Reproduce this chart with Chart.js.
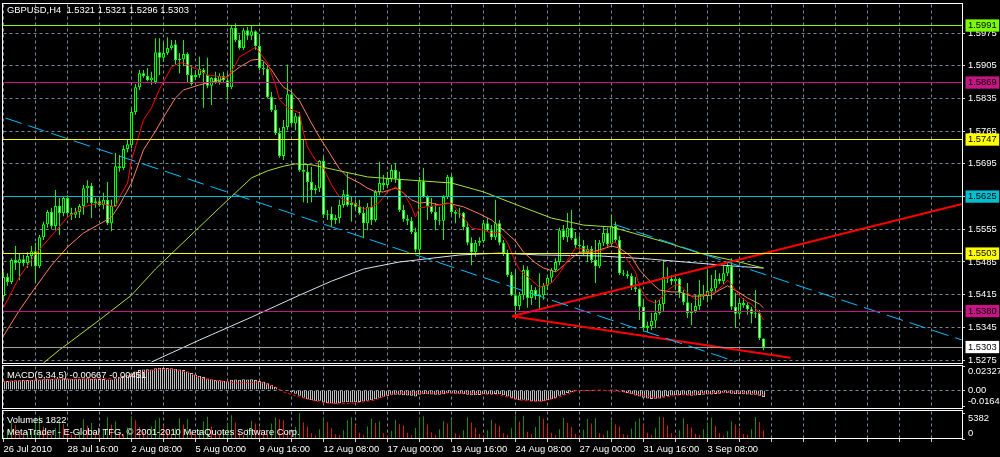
<!DOCTYPE html>
<html>
<head>
<meta charset="utf-8">
<title>GBPUSD,H4</title>
<script src="https://cdn.jsdelivr.net/npm/chart.js"></script>
<style>
html,body{margin:0;padding:0;background:#000;overflow:hidden;}
canvas{display:block;}
</style>
</head>
<body>
<canvas id="chart" width="1000" height="457"></canvas>
<script>
// ---------------- DATA ----------------
const opens = [
1.5412,1.5453,1.5442,1.5489,1.5483,1.5491,1.5483,1.5498,1.5508,1.5476,
1.5538,1.5566,1.5592,1.5562,1.5605,1.5590,1.5622,1.5590,1.5586,1.5592,
1.5605,1.5643,1.5648,1.5611,1.5615,1.5607,1.5618,1.5568,1.5605,1.5690,
1.5686,1.5727,1.5735,1.5806,1.5859,1.5889,1.5883,1.5874,1.5870,1.5934,
1.5922,1.5932,1.5943,1.5951,1.5917,1.5919,1.5930,1.5885,1.5881,1.5885,
1.5896,1.5885,1.5862,1.5879,1.5870,1.5883,1.5874,1.5859,1.5986,1.5960,
1.5943,1.5981,1.5969,1.5979,1.5947,1.5900,1.5898,1.5838,1.5810,1.5761,
1.5712,1.5774,1.5844,1.5782,1.5797,1.5682,1.5678,1.5656,1.5639,1.5643,
1.5701,1.5586,1.5588,1.5575,1.5579,1.5607,1.5630,1.5607,1.5611,1.5603,
1.5590,1.5568,1.5603,1.5575,1.5635,1.5654,1.5650,1.5663,1.5682,1.5663,
1.5596,1.5577,1.5573,1.5549,1.5511,1.5658,1.5624,1.5605,1.5592,1.5575,
1.5573,1.5624,1.5667,1.5592,1.5588,1.5590,1.5560,1.5526,1.5506,1.5526,
1.5530,1.5568,1.5553,1.5538,1.5568,1.5526,1.5504,1.5457,1.5414,1.5391,
1.5414,1.5468,1.5408,1.5425,1.5412,1.5414,1.5434,1.5451,1.5468,1.5485,
1.5553,1.5538,1.5558,1.5536,1.5521,1.5519,1.5506,1.5513,1.5489,1.5476,
1.5526,1.5547,1.5523,1.5562,1.5532,1.5461,1.5459,1.5455,1.5431,1.5427,
1.5389,1.5344,1.5348,1.5359,1.5376,1.5395,1.5453,1.5449,1.5444,1.5449,
1.5419,1.5399,1.5376,1.5380,1.5391,1.5416,1.5412,1.5423,1.5429,1.5449,
1.5444,1.5461,1.5476,1.5389,1.5374,1.5397,1.5393,1.5384,1.5374,1.5376,
1.5321];
const highs = [
1.5464,1.5461,1.5493,1.5519,1.5504,1.5500,1.5506,1.5519,1.5526,1.5543,
1.5571,1.5596,1.5601,1.5639,1.5622,1.5626,1.5628,1.5601,1.5601,1.5609,
1.5650,1.5660,1.5654,1.5622,1.5622,1.5633,1.5656,1.5618,1.5718,1.5714,
1.5735,1.5746,1.5815,1.5866,1.5896,1.5896,1.5900,1.5892,1.5964,1.5964,
1.5954,1.5966,1.5960,1.5960,1.5932,1.5960,1.5934,1.5904,1.5896,1.5924,
1.5900,1.5922,1.5881,1.5892,1.5889,1.5892,1.5889,1.5992,1.5996,1.5971,
1.5986,1.5988,1.5992,1.5981,1.5973,1.5913,1.5904,1.5849,1.5821,1.5772,
1.5789,1.5907,1.5853,1.5804,1.5806,1.5746,1.5693,1.5688,1.5650,1.5703,
1.5710,1.5596,1.5603,1.5586,1.5618,1.5639,1.5675,1.5624,1.5618,1.5618,
1.5603,1.5611,1.5624,1.5639,1.5699,1.5671,1.5678,1.5693,1.5697,1.5678,
1.5607,1.5586,1.5581,1.5558,1.5667,1.5686,1.5628,1.5622,1.5611,1.5603,
1.5628,1.5671,1.5671,1.5596,1.5601,1.5592,1.5571,1.5538,1.5532,1.5538,
1.5575,1.5579,1.5564,1.5618,1.5575,1.5532,1.5511,1.5464,1.5468,1.5421,
1.5478,1.5476,1.5436,1.5431,1.5461,1.5440,1.5457,1.5472,1.5493,1.5558,
1.5564,1.5590,1.5596,1.5549,1.5541,1.5532,1.5521,1.5519,1.5532,1.5532,
1.5562,1.5558,1.5586,1.5571,1.5541,1.5468,1.5466,1.5461,1.5453,1.5429,
1.5404,1.5357,1.5376,1.5404,1.5404,1.5489,1.5474,1.5457,1.5459,1.5451,
1.5425,1.5440,1.5397,1.5414,1.5446,1.5436,1.5468,1.5457,1.5468,1.5461,
1.5478,1.5485,1.5493,1.5419,1.5408,1.5408,1.5399,1.5389,1.5425,1.5382,
1.5321];
const lows = [
1.5404,1.5434,1.5438,1.5468,1.5446,1.5476,1.5472,1.5476,1.5440,1.5472,
1.5532,1.5558,1.5556,1.5553,1.5543,1.5583,1.5586,1.5575,1.5579,1.5579,
1.5586,1.5611,1.5579,1.5601,1.5603,1.5598,1.5564,1.5551,1.5603,1.5678,
1.5682,1.5720,1.5729,1.5800,1.5853,1.5879,1.5872,1.5864,1.5866,1.5885,
1.5913,1.5928,1.5939,1.5907,1.5889,1.5904,1.5868,1.5862,1.5874,1.5879,
1.5815,1.5857,1.5821,1.5866,1.5864,1.5870,1.5832,1.5855,1.5956,1.5939,
1.5939,1.5960,1.5960,1.5939,1.5896,1.5885,1.5836,1.5806,1.5757,1.5708,
1.5703,1.5767,1.5778,1.5767,1.5678,1.5613,1.5611,1.5613,1.5630,1.5635,
1.5579,1.5575,1.5560,1.5566,1.5568,1.5601,1.5603,1.5571,1.5596,1.5586,
1.5536,1.5553,1.5564,1.5571,1.5628,1.5639,1.5643,1.5656,1.5654,1.5592,
1.5571,1.5564,1.5545,1.5506,1.5500,1.5622,1.5575,1.5588,1.5553,1.5564,
1.5532,1.5620,1.5586,1.5568,1.5579,1.5553,1.5521,1.5478,1.5496,1.5519,
1.5526,1.5549,1.5532,1.5532,1.5521,1.5498,1.5453,1.5412,1.5367,1.5382,
1.5404,1.5387,1.5393,1.5404,1.5382,1.5404,1.5425,1.5440,1.5464,1.5478,
1.5532,1.5528,1.5532,1.5515,1.5511,1.5500,1.5485,1.5483,1.5440,1.5472,
1.5519,1.5515,1.5517,1.5526,1.5457,1.5455,1.5449,1.5425,1.5421,1.5361,
1.5339,1.5335,1.5339,1.5344,1.5372,1.5378,1.5440,1.5436,1.5425,1.5408,
1.5393,1.5365,1.5350,1.5376,1.5382,1.5404,1.5399,1.5404,1.5421,1.5438,
1.5438,1.5455,1.5382,1.5344,1.5365,1.5387,1.5372,1.5354,1.5365,1.5318,
1.5296];
const closes = [
1.5453,1.5442,1.5489,1.5483,1.5491,1.5483,1.5498,1.5508,1.5476,1.5538,
1.5566,1.5592,1.5562,1.5605,1.5590,1.5622,1.5590,1.5586,1.5592,1.5605,
1.5643,1.5648,1.5611,1.5615,1.5607,1.5618,1.5568,1.5605,1.5690,1.5686,
1.5727,1.5737,1.5806,1.5859,1.5889,1.5883,1.5874,1.5879,1.5934,1.5922,
1.5932,1.5943,1.5949,1.5917,1.5919,1.5930,1.5885,1.5866,1.5885,1.5898,
1.5889,1.5862,1.5879,1.5870,1.5883,1.5874,1.5859,1.5986,1.5960,1.5943,
1.5981,1.5969,1.5979,1.5947,1.5900,1.5898,1.5838,1.5810,1.5761,1.5712,
1.5774,1.5844,1.5782,1.5797,1.5682,1.5678,1.5656,1.5639,1.5643,1.5701,
1.5586,1.5588,1.5575,1.5579,1.5607,1.5630,1.5607,1.5611,1.5603,1.5590,
1.5568,1.5603,1.5575,1.5635,1.5654,1.5650,1.5663,1.5682,1.5663,1.5596,
1.5577,1.5573,1.5549,1.5511,1.5658,1.5624,1.5605,1.5592,1.5575,1.5573,
1.5624,1.5667,1.5592,1.5588,1.5590,1.5560,1.5526,1.5506,1.5526,1.5530,
1.5568,1.5553,1.5538,1.5568,1.5526,1.5504,1.5457,1.5414,1.5391,1.5414,
1.5468,1.5408,1.5425,1.5412,1.5414,1.5434,1.5451,1.5468,1.5485,1.5553,
1.5538,1.5558,1.5536,1.5521,1.5519,1.5506,1.5513,1.5489,1.5476,1.5526,
1.5547,1.5523,1.5562,1.5532,1.5461,1.5459,1.5455,1.5431,1.5427,1.5389,
1.5344,1.5348,1.5359,1.5376,1.5395,1.5453,1.5449,1.5444,1.5449,1.5419,
1.5399,1.5376,1.5380,1.5391,1.5416,1.5412,1.5423,1.5429,1.5449,1.5444,
1.5461,1.5476,1.5389,1.5374,1.5397,1.5393,1.5384,1.5374,1.5376,1.5322,
1.5303];

// moving averages: [bar index, price]
const maFast = [[0,1.5387],[4,1.5453],[8,1.5502],[12,1.5541],[16,1.5581],[20,1.5603],[24,1.5611],[28,1.5603],[29,1.5624],[31,1.5654],[32,1.5703],[35,1.5789],[37,1.5815],[39,1.5855],[42,1.5902],[44,1.5911],[45,1.5911],[47,1.5902],[49,1.5896],[51,1.5885],[53,1.5883],[56,1.5879],[58,1.5907],[59,1.5924],[62,1.5939],[63,1.5945],[64,1.5934],[66,1.5911],[68,1.5864],[69,1.5832],[71,1.5815],[74,1.5804],[75,1.5761],[76,1.5731],[78,1.5703],[80,1.5686],[82,1.5650],[84,1.5624],[85,1.5618],[87,1.5613],[89,1.5605],[90,1.5598],[92,1.5603],[94,1.5613],[96,1.5635],[98,1.5645],[100,1.5633],[102,1.5603],[103,1.5581],[104,1.5601],[106,1.5603],[109,1.5607],[112,1.5611],[114,1.5590],[117,1.5558],[120,1.5553],[122,1.5547],[124,1.5549],[126,1.5526],[128,1.5485],[129,1.5468],[132,1.5446],[134,1.5431],[137,1.5440],[139,1.5461],[141,1.5489],[143,1.5515],[145,1.5513],[148,1.5506],[150,1.5511],[152,1.5526],[153,1.5528],[154,1.5511],[156,1.5489],[158,1.5464],[159,1.5431],[161,1.5404],[163,1.5397],[164,1.5404],[166,1.5425],[168,1.5436],[169,1.5436],[171,1.5419],[173,1.5404],[174,1.5408],[176,1.5419],[178,1.5421],[180,1.5436],[181,1.5446],[182,1.5438],[184,1.5412],[186,1.5399],[187,1.5395],[189,1.5376],[190,1.5361]];
const maSlow = [[0,1.5327],[4,1.5382],[8,1.5431],[12,1.5478],[16,1.5517],[20,1.5547],[24,1.5566],[27,1.5581],[29,1.5607],[32,1.5654],[35,1.5725],[38,1.5765],[40,1.5795],[43,1.5836],[45,1.5853],[49,1.5864],[52,1.5870],[55,1.5876],[57,1.5889],[59,1.5902],[62,1.5917],[64,1.5919],[65,1.5915],[67,1.5896],[69,1.5870],[70,1.5859],[72,1.5849],[74,1.5830],[77,1.5782],[79,1.5752],[81,1.5725],[84,1.5684],[86,1.5667],[89,1.5654],[91,1.5643],[93,1.5635],[95,1.5635],[98,1.5643],[99,1.5639],[102,1.5618],[104,1.5611],[106,1.5613],[109,1.5607],[111,1.5611],[115,1.5603],[119,1.5588],[122,1.5575],[125,1.5553],[128,1.5530],[130,1.5506],[133,1.5483],[135,1.5472],[138,1.5464],[139,1.5470],[142,1.5493],[144,1.5506],[147,1.5506],[149,1.5511],[152,1.5519],[154,1.5515],[157,1.5496],[159,1.5468],[162,1.5440],[164,1.5425],[167,1.5421],[169,1.5421],[172,1.5412],[174,1.5412],[177,1.5414],[179,1.5425],[181,1.5434],[184,1.5419],[186,1.5408],[189,1.5395],[190,1.5387]];
const maLong = [[10,1.5269],[14,1.5297],[17,1.5316],[24,1.5361],[32,1.5414],[38,1.5470],[54,1.5601],[59,1.5641],[62,1.5665],[66,1.5680],[70,1.5690],[73,1.5695],[77,1.5693],[83,1.5682],[91,1.5667],[102,1.5660],[112,1.5654],[120,1.5635],[129,1.5605],[137,1.5579],[145,1.5564],[152,1.5560],[166,1.5526],[174,1.5504],[183,1.5487],[190,1.5472]];
const maLonger = [[37,1.5271],[49,1.5318],[62,1.5367],[74,1.5414],[82,1.5444],[90,1.5470],[99,1.5485],[114,1.5500],[124,1.5504],[134,1.5500],[149,1.5498],[162,1.5491],[173,1.5483],[183,1.5476],[190,1.5472]];

// MACD(5,34,5)
const macdMain = [
0.0090,0.0088,0.0092,0.0095,0.0094,0.0096,0.0097,0.0099,0.0096,0.0100,
0.0104,0.0109,0.0108,0.0112,0.0111,0.0114,0.0112,0.0110,0.0108,0.0107,
0.0112,0.0114,0.0110,0.0108,0.0106,0.0107,0.0103,0.0101,0.0115,0.0122,
0.0135,0.0142,0.0160,0.0180,0.0195,0.0200,0.0202,0.0200,0.0212,0.0215,
0.0213,0.0214,0.0212,0.0205,0.0198,0.0195,0.0180,0.0165,0.0150,0.0138,
0.0125,0.0112,0.0105,0.0098,0.0094,0.0090,0.0085,0.0100,0.0102,0.0100,
0.0104,0.0103,0.0105,0.0098,0.0088,0.0080,0.0065,0.0048,0.0030,0.0010,
-0.0005,-0.0010,-0.0020,-0.0035,-0.0055,-0.0075,-0.0090,-0.0100,-0.0110,-0.0105,
-0.0118,-0.0125,-0.0130,-0.0132,-0.0128,-0.0122,-0.0118,-0.0120,-0.0118,-0.0115,
-0.0112,-0.0105,-0.0098,-0.0090,-0.0075,-0.0065,-0.0058,-0.0050,-0.0046,-0.0045,
-0.0050,-0.0052,-0.0056,-0.0062,-0.0045,-0.0040,-0.0042,-0.0044,-0.0046,-0.0047,
-0.0040,-0.0032,-0.0034,-0.0036,-0.0037,-0.0040,-0.0045,-0.0050,-0.0050,-0.0048,
-0.0042,-0.0041,-0.0043,-0.0038,-0.0042,-0.0050,-0.0062,-0.0078,-0.0092,-0.0098,
-0.0095,-0.0102,-0.0108,-0.0112,-0.0112,-0.0108,-0.0100,-0.0090,-0.0078,-0.0055,
-0.0045,-0.0030,-0.0018,-0.0012,-0.0008,-0.0004,-0.0002,-0.0003,-0.0005,0.0002,
0.0006,0.0006,0.0010,0.0010,-0.0005,-0.0018,-0.0030,-0.0042,-0.0052,-0.0063,
-0.0075,-0.0083,-0.0086,-0.0085,-0.0082,-0.0065,-0.0058,-0.0054,-0.0050,-0.0049,
-0.0050,-0.0052,-0.0055,-0.0054,-0.0048,-0.0046,-0.0044,-0.0043,-0.0038,-0.0036,
-0.0032,-0.0028,-0.0035,-0.0040,-0.0040,-0.0041,-0.0043,-0.0046,-0.0046,-0.0055,
-0.00667];
const macdSignal = [[0,0.0078],[8,0.0097],[20,0.0107],[29,0.0116],[34,0.0165],[38,0.0194],[41,0.0203],[46,0.0174],[49,0.0116],[58,0.0068],[64,0.0078],[68,0.0029],[70,-0.0019],[74,-0.0068],[79,-0.0116],[83,-0.0136],[88,-0.0126],[93,-0.0097],[96,-0.0048],[99,-0.0029],[108,-0.0029],[116,-0.0029],[124,-0.0048],[129,-0.0097],[134,-0.0116],[139,-0.0068],[143,-0.0010],[149,0.0000],[155,-0.0019],[159,-0.0048],[164,-0.0078],[169,-0.0048],[176,-0.0029],[183,-0.0019],[190,-0.00451]];

// Volumes
const volumes = [
700,1900,3400,2900,1500,900, 1400,1700,3900,4700,2600,1100,
800,2300,3800,3100,2100,1000, 700,1600,4100,2800,3300,1200,
900,2000,4500,3000,3600,1300, 1000,2400,4700,3900,2500,1500,
800,2600,3900,4400,2800,1600, 900,2200,4300,3000,4100,1400,
1000,1900,3600,4600,2600,1200, 800,1700,3300,4900,3400,1400,
900,2100,3800,3200,2400,1100, 1000,3200,4400,4100,3900,1600,
900,2500,5382,3400,2600,1200, 700,2000,4400,3500,2200,1000,
800,1800,3900,4500,2900,1300, 900,2600,4200,3300,3600,1200,
700,1700,4000,3100,2800,1300, 800,2300,4400,4700,3000,1400,
900,2000,3700,3200,4100,1200, 700,1800,4500,3400,2400,1100,
700,1800,4000,3200,2700,1200, 900,2200,4900,3600,4800,1500,
1000,2500,4700,4200,3000,1300, 800,2000,4400,3300,2500,1100,
700,1900,4200,3200,4300,1200, 900,1700,3800,3000,2600,1000,
800,2100,3600,4300,3000,1300, 900,2200,4600,4500,2800,1200,
700,1800,4300,3100,2400,1100, 800,2000,3400,4400,2700,1200,
700,1600,3600,3000,2300,1000, 900,2000,4500,3500,1822];

// price levels and trend lines (bar index, price)
const levelPrices = [1.5991, 1.5869, 1.5747, 1.5625, 1.5503, 1.5380];
const bidPrice = 1.5303;
const trendCyan = [[[0.5,1.5793],[183,1.5272]], [[152.5,1.5566],[239.6,1.5318]]];
const trendRed = [[[127.1,1.5369],[239.6,1.5609]], [[127.1,1.5369],[196.75,1.5280]]];

// axes
const priceTicks = [1.5275,1.5345,1.5415,1.5485,1.5555,1.5625,1.5695,1.5765,1.5835,1.5905,1.5975];
const macdTicks = [0.02327, 0, -0.01645];
const volumeTicks = [5382, 0];
const gridBars = [0,8,16,24,32,40,48,56,64,72,80,88,96,104,112,120,128,136,144,152,160,168,176,184,192,200,208,216,224,232];
const timeLabelBars = [0,16,32,48,64,80,96,112,128,144,160,176];
const timeLabels = ['26 Jul 2010','28 Jul 16:00','2 Aug 08:00','5 Aug 00:00','9 Aug 16:00','12 Aug 08:00','17 Aug 00:00','19 Aug 16:00','24 Aug 08:00','27 Aug 00:00','31 Aug 16:00','3 Sep 08:00'];

// ---------------- STYLE ----------------
const FONT_FAMILY = '"Liberation Sans", Arial, sans-serif';
const FONT_SIZE = 9.4;
const GRID_COLOR = '#778899';
const GRID_DASH = [3, 3];
const CANDLE = '#00ff00';
const levelColors = ['#7cfc00', '#c71585', '#ffff00', '#00c0d0', '#ffff00', '#c71585'];
const BID_COLOR = '#a0a0a0';
const X_MIN = -0.375, X_MAX = 239.625;

Chart.defaults.font.family = FONT_FAMILY;
Chart.defaults.font.size = FONT_SIZE;
Chart.defaults.color = '#ffffff';

const idx = opens.map((_, i) => i);
const pts = arr => arr.map(([x, y]) => ({x, y}));
const seg = s => [{x: s[0][0], y: s[0][1]}, {x: s[1][0], y: s[1][1]}];
const lineDs = (data, color, extra) => Object.assign({
  type: 'line', data, yAxisID: 'yPrice', borderColor: color, borderWidth: 1,
  pointRadius: 0, tension: 0, fill: false, order: 1
}, extra || {});

const datasets = [
  ...trendCyan.map(s => lineDs(seg(s), '#00bfff', {borderDash: [17, 7], order: 0})),
  ...trendRed.map(s => lineDs(seg(s), '#ff0000', {borderWidth: 2, order: 0})),
  lineDs(pts(maFast), '#ff0000'),
  lineDs(pts(maSlow), '#fa8060'),
  lineDs(pts(maLong), '#a6e23a'),
  lineDs(pts(maLonger), '#d6e2ec'),
  {
    type: 'bar', label: 'body', yAxisID: 'yPrice', grouped: false, order: 5,
    data: idx.map(i => ({x: i, y: [opens[i], closes[i]]})),
    barThickness: 3, minBarLength: 1, borderWidth: 1, borderSkipped: false, inflateAmount: 0,
    borderColor: CANDLE,
    backgroundColor: c => closes[c.dataIndex] > opens[c.dataIndex] ? '#000000' : '#ffffff'
  },
  {
    type: 'bar', label: 'wick', yAxisID: 'yPrice', grouped: false, order: 6,
    data: idx.map(i => ({x: i, y: [lows[i], highs[i]]})),
    barThickness: 1, borderWidth: 0, inflateAmount: 0, backgroundColor: CANDLE
  },
  {
    type: 'line', label: 'signal', yAxisID: 'yMacd', order: 3,
    data: pts(macdSignal), borderColor: '#ff0000', borderWidth: 1, borderDash: [3, 2],
    pointRadius: 0, tension: 0, fill: false
  },
  {
    type: 'bar', label: 'macd', yAxisID: 'yMacd', grouped: false, order: 7,
    data: idx.map(i => ({x: i, y: macdMain[i]})),
    barThickness: 3, borderWidth: 1, borderSkipped: 'start', inflateAmount: 0,
    borderColor: '#c0c0c0', backgroundColor: '#000000'
  },
  {
    type: 'bar', label: 'volume', yAxisID: 'yVol', grouped: false, order: 7,
    data: idx.map(i => ({x: i, y: volumes[i]})),
    barThickness: 1, borderWidth: 0, inflateAmount: 0,
    backgroundColor: c => (c.dataIndex > 0 && volumes[c.dataIndex] < volumes[c.dataIndex - 1]) ? '#e81212' : '#0a920a'
  }
];

const kindOf = c => (c && c.tick && c.tick.kind) || 'grid';
const PANELS = ['yPrice', 'yMacd', 'yVol'];

const mtPlugin = {
  id: 'mt',
  frame(chart, s) {
    const first = s.id === 'yPrice';
    return {top: s.top + (first ? 0.5 : 1.5), bottom: s.bottom - 0.5,
            left: chart.chartArea.left + 0.5, right: chart.chartArea.right + 0.5};
  },
  beforeDatasetsDraw(chart) {
    // dashed grid, per panel, from the scales' ticks
    const ctx = chart.ctx, xs = chart.scales.x;
    ctx.save();
    ctx.strokeStyle = GRID_COLOR;
    ctx.lineWidth = 1;
    ctx.setLineDash(GRID_DASH);
    PANELS.forEach(id => {
      const s = chart.scales[id];
      const f = this.frame(chart, s);
      ctx.beginPath();
      xs.ticks.forEach(t => {
        const x = Math.floor(xs.getPixelForValue(t.value)) + 0.5;
        ctx.moveTo(x, f.top + 1); ctx.lineTo(x, f.bottom);
      });
      s.ticks.forEach(t => {
        const isGrid = id === 'yPrice' ? t.kind === 'grid' : (id === 'yMacd' && t.value === 0);
        if (!isGrid) return;
        const y = Math.floor(s.getPixelForValue(t.value)) + 0.5;
        ctx.moveTo(f.left + 1, y); ctx.lineTo(f.right, y);
      });
      ctx.stroke();
    });
    ctx.restore();
  },
  beforeDatasetDraw(chart, args) {
    const meta = chart.getDatasetMeta(args.index);
    const f = this.frame(chart, meta.yScale);
    const ctx = chart.ctx;
    ctx.save();
    ctx.beginPath();
    ctx.rect(f.left + 0.5, f.top + 0.5, f.right - f.left - 1, f.bottom - f.top - 1);
    ctx.clip();
  },
  afterDatasetDraw(chart) { chart.ctx.restore(); },
  afterDatasetsDraw(chart) {
    const ctx = chart.ctx, ys = chart.scales.yPrice, ca = chart.chartArea;
    ctx.save();
    ctx.lineWidth = 1;
    const hline = (p, color) => {
      const y = Math.floor(ys.getPixelForValue(p)) + 0.5;
      ctx.strokeStyle = color;
      ctx.beginPath(); ctx.moveTo(ca.left, y); ctx.lineTo(ca.right, y); ctx.stroke();
    };
    levelPrices.forEach((p, k) => hline(p, levelColors[k]));
    hline(bidPrice, BID_COLOR);
    ctx.restore();
  },
  afterDraw(chart) {
    const ctx = chart.ctx;
    ctx.save();
    ctx.strokeStyle = '#ffffff';
    ctx.lineWidth = 1;
    PANELS.forEach(id => {
      const f = this.frame(chart, chart.scales[id]);
      ctx.strokeRect(f.left, f.top, f.right - f.left, f.bottom - f.top);
    });
    ctx.fillStyle = '#ffffff';
    ctx.font = FONT_SIZE + 'px ' + FONT_FAMILY;
    ctx.textBaseline = 'middle';
    ctx.textAlign = 'left';
    ctx.fillText('GBPUSD,H4  1.5321 1.5321 1.5296 1.5303', 7, 10.5);
    ctx.fillText('MACD(5,34,5) -0.00667 -0.00451', 7, 375.5);
    ctx.fillText('Volumes 1822', 7, 420.5);
    ctx.fillText('MetaTrader - E-Global TFG, \u00A9 2001-2010 MetaQuotes Software Corp.', 7, 432);
    ctx.restore();
  }
};

const yFit = s => { s.width = 38; s.paddingTop = 0; s.paddingBottom = 0; };

new Chart(document.getElementById('chart'), {
  type: 'bar',
  data: {datasets},
  options: {
    responsive: false,
    animation: false,
    devicePixelRatio: 1,
    events: [],
    layout: {padding: {left: 2, top: 3, right: 0, bottom: 0}},
    plugins: {legend: {display: false}, tooltip: {enabled: false}, title: {display: false}},
    scales: {
      x: {
        type: 'linear', position: 'bottom', min: X_MIN, max: X_MAX, offset: false,
        grid: {offset: false, drawOnChartArea: false, drawTicks: true, tickLength: 3,
               tickColor: '#d0d0d0', tickBorderDash: []},
        border: {display: false},
        ticks: {
          align: 'start', maxRotation: 0, minRotation: 0, autoSkip: false, padding: 2, color: '#ffffff',
          callback: v => { const k = timeLabelBars.indexOf(v); return k >= 0 ? timeLabels[k] : ''; }
        },
        afterBuildTicks: s => { s.ticks = gridBars.map(v => ({value: v})); },
        afterFit: s => { s.height = 18; s.paddingLeft = 0; s.paddingRight = 0; }
      },
      yPrice: {
        type: 'linear', position: 'right', stack: 'mt', stackWeight: 361,
        min: 1.52667, max: 1.60392, beginAtZero: false,
        grid: {
          drawOnChartArea: false,
          tickColor: c => kindOf(c) === 'grid' ? '#d0d0d0' : 'rgba(0,0,0,0)',
          drawTicks: true, tickLength: 3, tickBorderDash: []
        },
        border: {display: false},
        ticks: {
          autoSkip: false, padding: 3,
          color: c => kindOf(c) === 'grid' ? '#ffffff' : '#000000',
          showLabelBackdrop: c => kindOf(c) !== 'grid',
          backdropColor: c => kindOf(c) === 'bid' ? '#ffffff' : (kindOf(c) === 'level' ? levelColors[c.tick.k] : 'rgba(0,0,0,0)'),
          backdropPadding: {left: 2.5, right: 2.5, top: 0.5, bottom: 0.5},
          callback: v => v.toFixed(4)
        },
        afterBuildTicks: s => {
          s.ticks = [
            ...priceTicks.map(v => ({value: v, kind: 'grid'})),
            ...levelPrices.map((v, k) => ({value: v, kind: 'level', k})),
            {value: bidPrice, kind: 'bid'}
          ];
        },
        afterFit: yFit
      },
      yMacd: {
        type: 'linear', position: 'right', stack: 'mt', stackWeight: 45,
        min: -0.018388, max: 0.025208, beginAtZero: false,
        grid: {drawOnChartArea: false, tickColor: '#d0d0d0', drawTicks: true, tickLength: 3, tickBorderDash: []},
        border: {display: false},
        ticks: {
          autoSkip: false, padding: 3, color: '#ffffff',
          callback: v => v === 0 ? '0.00' : (v > 0 ? ['', v.toFixed(5)] : [v.toFixed(5), ''])
        },
        afterBuildTicks: s => { s.ticks = macdTicks.map(v => ({value: v})); },
        afterFit: yFit
      },
      yVol: {
        type: 'linear', position: 'right', stack: 'mt', stackWeight: 30,
        min: 0, max: 6210,
        grid: {drawOnChartArea: false, tickColor: '#d0d0d0', drawTicks: true, tickLength: 3, tickBorderDash: []},
        border: {display: false},
        ticks: {
          autoSkip: false, padding: 3, color: '#ffffff',
          callback: v => v === 0 ? ['0', ''] : ['', String(v)]
        },
        afterBuildTicks: s => { s.ticks = volumeTicks.map(v => ({value: v})); },
        afterFit: yFit
      }
    }
  },
  plugins: [mtPlugin]
});
</script>
</body>
</html>
